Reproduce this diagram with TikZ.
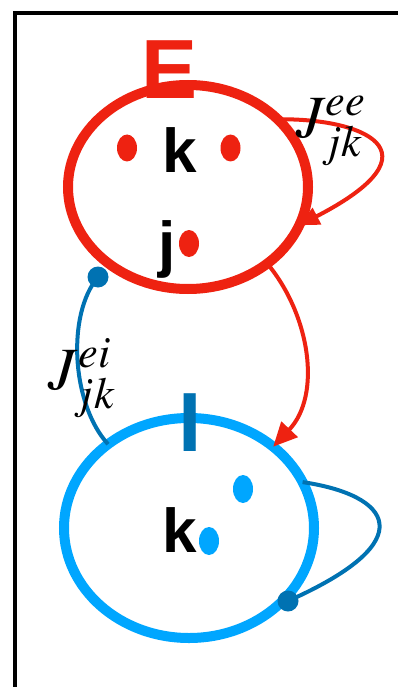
\documentclass[tikz,border=0pt]{standalone}
\usepackage{mathptmx}
\usepackage{fontspec}
\newfontfamily\arialf{Liberation Sans}
\usetikzlibrary{arrows.meta,shapes.geometric}
\definecolor{ered}{RGB}{238,34,17}
\definecolor{iblue}{RGB}{0,166,255}
\definecolor{dblue}{RGB}{0,114,178}
\tikzset{
  popE/.style={ellipse, draw=ered, line width=10pt, minimum width=240pt, minimum height=204pt, inner sep=0pt, outer sep=0pt},
  popI/.style={ellipse, draw=iblue, line width=10pt, minimum width=250pt, minimum height=220pt, inner sep=0pt, outer sep=0pt},
  reddot/.style={ellipse, fill=ered, minimum width=20pt, minimum height=27pt, inner sep=0pt},
  bluedot/.style={ellipse, fill=iblue, minimum width=20pt, minimum height=28pt, inner sep=0pt},
  idx/.style={font=\arialf\bfseries\fontsize{62}{62}\selectfont, anchor=base, inner sep=0pt},
  big/.style={font=\arialf\bfseries\fontsize{84}{84}\selectfont, anchor=base, inner sep=0pt},
  jlab/.style={font=\fontsize{60}{66}\selectfont, inner sep=0pt},
  redcon/.style={draw=ered, line width=4pt},
  bluecon/.style={draw=dblue, line width=4pt}
}
\begin{document}
\begin{tikzpicture}[x=1pt,y=-1pt]
\useasboundingbox (0,0) rectangle (397,687);
% frame
\coordinate (fa) at (15,700);
\coordinate (fb) at (15,13);
\coordinate (fc) at (410,13);
\draw[line width=4pt] (fa) -- (fb) -- (fc);
% populations
\node[popE] (E) at (188,187) {};
\node[popI] (I) at (189,528) {};
\node[big, text=ered] (Elab) at (170,99) {E};
\node[big, text=dblue] (Ilab) at (190,451) {I};
% dots and indices
\node[reddot] (e1) at (127,148) {};
\node[reddot] (e2) at (230.5,148) {};
\node[reddot] (e3) at (189,243.5) {};
\node[idx] (ek) at (180,172) {k};
\node[idx] (ej) at (167,265) {j};
\node[bluedot] (i1) at (243,489) {};
\node[bluedot] (i2) at (209,541) {};
\node[idx] (ik) at (180,552) {k};
% E self loop
\path[redcon, -{Triangle[length=20pt,width=18pt]}] (E.37) .. controls (360,118) and (445,150) .. (E.-19);
% E -> I
\path[redcon, -{Triangle[length=24pt,width=22pt]}] (E.-44) .. controls (310,315) and (322,395) .. (I.44);
% I -> E
\coordinate (dEI) at (98,277);
\path[bluecon] (I.134) .. controls (72,405) and (66,315) .. (dEI);
\fill[dblue] (dEI) circle[radius=10.5pt];
% I self loop
\coordinate (dII) at (288,601);
\path[bluecon] (I.22) .. controls (390,495) and (425,540) .. (dII);
\fill[dblue] (dII) circle[radius=10.5pt];
% labels
\node[jlab] (Jee) at (331,131) {$J^{ee}_{jk}$};
\node[jlab] (Jei) at (82,378) {$J^{ei}_{jk}$};
\end{tikzpicture}
\end{document}
